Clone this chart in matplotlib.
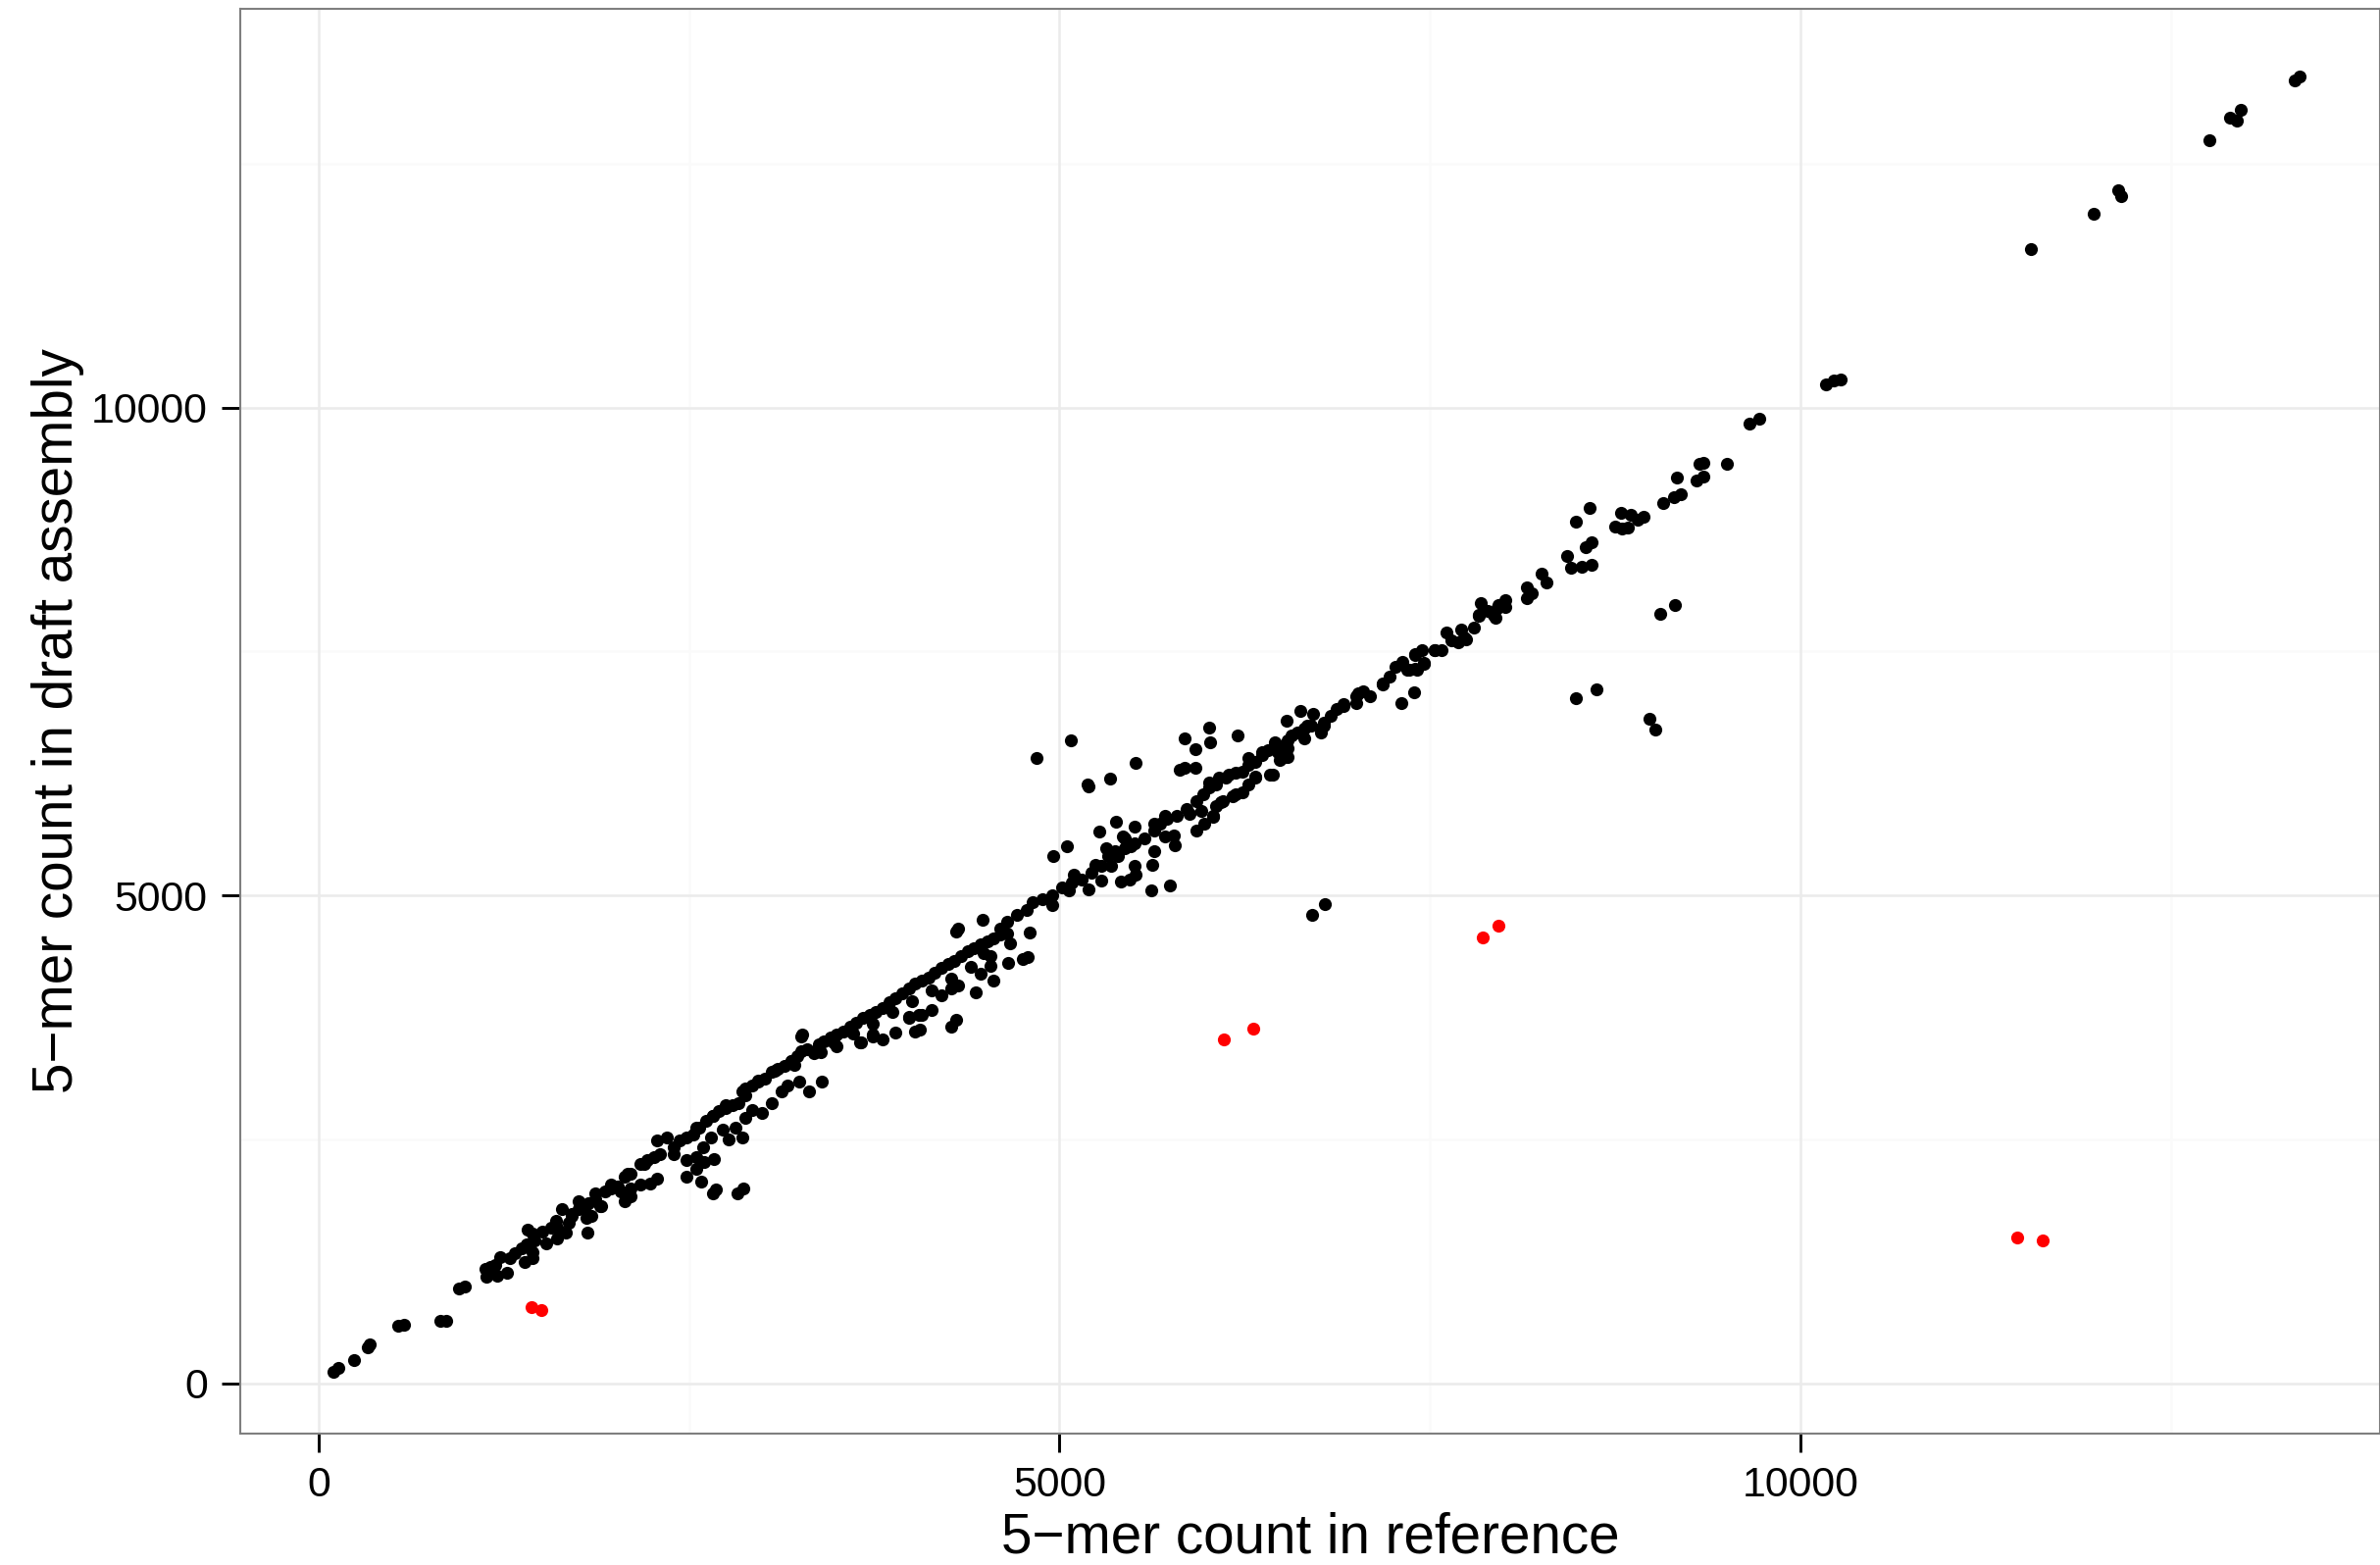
import matplotlib
matplotlib.use("Agg")
import matplotlib.pyplot as plt

plt.rcParams['font.family'] = ['Liberation Sans', 'DejaVu Sans']

# ---- data ----
low_x = [99,132,238,331,346,536,574,821,860,948,986,1125,1158,1191,1224,1132,1207,1268,1291,1324,
         1368,1401,1390,1445,1445,1412,1445,1456,1533,1511,1567,1600,1621,1610,1666,1688,1710,1754,1798,1820,
         1864,1897,1809,1842,1816,1930,1975,2019,2041,2063,2107,2063,2107,2173,2239]
low_y = [114,156,240,368,401,586,596,636,636,971,994,1172,1195,1212,1295,1094,1104,1129,1279,1330,
         1380,1420,1245,1279,1346,1574,1531,1464,1430,1554,1597,1614,1563,1480,1547,1647,1714,1781,1815,1848,
         1882,1815,1697,1714,1541,1966,1999,2016,1966,2117,2150,1865,1915,2033,2049]

band2_x = [2173,2217,2261,2305,2283,2349,2394,2438,2482,2526,2570,2614,2658,2702,2747,2791,2835,2879,2879,2923,
           2967,3011,3055,3100,3144,3188,3232,3254,3298,3342,3375,3408,3452,3497,3541,3585,3629,3673,3717,3761,
           3805,3850,3894,3938,3982,4026,4070,4114,4158,4203,4247,4291,4335,4379,4423,4467,4511,4555,4600,4644]
band2_y = [2251,2284,2318,2351,2485,2519,2418,2485,2519,2552,2619,2686,2736,2787,2820,2854,2870,2954,3021,3055,
           3088,3122,3189,3222,3256,3306,3356,3406,3423,3389,3473,3507,3540,3574,3607,3658,3691,3741,3775,3808,
           3842,3909,3942,3993,4043,4093,4127,4160,4210,4261,4294,4328,4378,4428,4462,4495,4529,4562,4596,4612]

off2_x = [2283,2482,2581,2482,2548,2603,2669,2548,2592,2647,2769,2813,2857,2724,2879,2989,3055,3122,3166,3243,
          3309,3397,2658,2680,2824,2868,3254,3265,3662,3739,3805,3894,3982,4048,4026,4059,4136,4203,4269,4313,
          4269,4302,4434,4467,4533,4555,4655,4754,4787,4489]
off2_y = [2100,2117,2066,2284,2318,2267,2301,2200,2418,2519,2502,2619,2519,2602,2720,2770,2870,2987,3055,3088,
          2987,3088,1949,1983,1949,1999,3557,3574,3490,3574,3524,3591,3741,3775,3607,3624,3825,3976,4043,4076,
          3658,3725,4009,4193,4277,4127,4311,4344,4368,4411]

band3_x = [4599,4643,4710,4776,4820,4886,4952,5018,5085,5151,5217,5283,5327,5371,5438,5504,5570,5636,5680,5724,
           5791,5857,5923,5967,6011,6055,6121,6188,6232,6276,6320,6364,6408,6474,6541]
band3_y = [4662,4730,4797,4847,4931,4964,4998,5081,5132,5165,5232,5299,5400,5450,5483,5534,5584,5668,5735,5785,
           5818,5885,5969,6036,6103,6137,6204,6254,6271,6338,6371,6438,6488,6539,6589]

off3_x = [4301,4312,4478,4842,5078,4959,5051,5195,5283,5265,5378,5411,5471,5504,5515,5504,5427,5625,5636,5621,
          5746,5779,5768,5923,5978,6033,5188,5195,5338,5515,5813,5846,5918,5918,5846,6018,6203,6441,6485,6541,
          6702,6790,6320,6166,6232,6276,6088]
off3_y = [4629,4663,4746,6411,6589,5406,5500,5065,5148,5657,5751,5138,5165,5299,5215,5701,5600,5316,5450,5048,
          5105,5517,5617,5668,5735,5808,6137,6120,6193,6361,6287,6304,6311,6495,6612,6565,6639,6237,6388,6421,
          4797,4914,6220,6019,6053,6137,5952]

band4_x = [6563,6607,6651,6696,6762,6784,6828,6872,6916,7004,7049,7093,7181,7225,7269,7313,7357,7413,7401,7446,
           7457,7534,7578,7611,7644,7688,7710,7743,7799,7832,7843,7887,7942,7953,8008,8008,8152,8152,8185,8251,
           8284,8427,8449,8527,8588,8549,8593]
band4_y = [6639,6673,6706,6740,6706,6773,6840,6907,6941,7041,7091,7041,7175,7242,7343,7376,7309,7309,7476,7510,
           7383,7510,7510,7694,7611,7594,7728,7627,7745,7862,7996,7912,7845,7946,8029,7952,8153,8046,8096,8297,
           8207,8475,8354,8364,8391,8565,8616]

off4_x = [6530,6625,6713,7307,7395,8487,8621,8981,9023,9056,9150]
off4_y = [6790,6890,6857,6967,7081,7024,7115,6807,6696,7889,7972]

high_x = [8482,8575,8747,8791,8795,8835,8857,8901,8941,9073,9144,9195,9166,9298,9342,9342,9316,9503,9656,9724,
          10174,10225,10269]
high_y = [8833,8967,8783,8924,8756,8766,8900,8850,8884,9018,9078,9111,9285,9252,9292,9430,9426,9426,9838,9889,
          10240,10274,10291]

top_x = [11557,11980,12144,12165,12761,12899,12946,12973,13335,13370]
top_y = [11621,11983,12227,12167,12737,12971,12944,13048,13356,13390]

# band edge points (upper / lower side of the dense band)
edgeA_x = [1643,1754,1864,1974,2084,2195,2548,2658,2746,2857,2967,3077,3187,1599,1709,1908,2107,2393,2923]
edgeA_y = [1782,1866,1950,2033,2151,2251,2620,2737,2854,2988,3105,3206,3306,1665,1732,1816,1999,2352,2804]

edgeB_x = [3387,3497,3651,3740,3982,4071,3210,3343,3475,3607,3740,3872,4004,4137,4269,4401,4534,4666,4798]
edgeB_y = [3390,3457,3491,3558,3759,3775,3266,3384,3491,3585,3685,3802,3920,4027,4147,4271,4382,4506,4623]

edgeC_x = [5096,5239,5317,5438,5636,5714,6012,6078,6144,6276,4953,5063,5350,5394,5482,5714,5879,5956,6034,6056,
           6100,6188,6320,6420,6007]
edgeC_y = [5216,5316,5484,5584,5735,5819,6154,6204,6238,6405,4898,5048,5300,5400,5501,5601,5836,5869,5819,5919,
           5970,6037,6204,6238,6723]

edgeD_x = [6364,6453,6475,6519,6541,6651,6673,6761,6783,6916,7015,7004,7181,7313,7346,7401,7456,7401,7533,7732,
           7831,7931,7964]
edgeD_y = [6471,6572,6472,6421,6505,6606,6740,6673,6740,6957,7075,6974,7158,7393,7309,7460,7376,7326,7510,7644,
           7879,7879,7979]

red_x = [1438,1500,6106,6308,7858,7959,11462,11635]
red_y = [777,753,3527,3638,4573,4693,1491,1467]

x_ticks = [0, 5000, 10000]
y_ticks = [0, 5000, 10000]
minor_ticks = [2500, 7500, 12500]
x_label = "5\u2212mer count in reference"
y_label = "5\u2212mer count in draft assembly"

black_x = (low_x + band2_x + off2_x + band3_x + off3_x + band4_x + off4_x + high_x + top_x
           + edgeA_x + edgeB_x + edgeC_x + edgeD_x)
black_y = (low_y + band2_y + off2_y + band3_y + off3_y + band4_y + off4_y + high_y + top_y
           + edgeA_y + edgeB_y + edgeC_y + edgeD_y)
assert len(black_x) == len(black_y)

# ---- figure ----
W, H = 2427, 1596
DPI = 300
fig = plt.figure(figsize=(W / DPI, H / DPI), dpi=DPI)
L, R, T, B = 245, 2427, 9, 1462
ax = fig.add_axes([L / W, 1 - B / H, (R - L) / W, (B - T) / H])
ax.set_xlim(-529, 13911)
ax.set_ylim(-517, 14086)

# grid
for v in minor_ticks:
    ax.axvline(v, color='#FAFAFA', lw=0.6, zorder=0)
    ax.axhline(v, color='#FAFAFA', lw=0.6, zorder=0)
for v in x_ticks:
    ax.axvline(v, color='#EBEBEB', lw=0.6, zorder=0.5)
for v in y_ticks:
    ax.axhline(v, color='#EBEBEB', lw=0.6, zorder=0.5)

ax.scatter(black_x, black_y, s=10, c='black', linewidths=0, zorder=2)
ax.scatter(red_x, red_y, s=10, c='#FF0000', linewidths=0, zorder=3)

ax.set_xticks(x_ticks)
ax.set_yticks(y_ticks)
ax.set_xticklabels([str(v) for v in x_ticks])
ax.set_yticklabels([str(v) for v in y_ticks])
ax.tick_params(axis='both', length=4.6, width=0.7, color='black', labelsize=10.3,
               labelcolor='black', pad=3.4, direction='out')
for sp in ax.spines.values():
    sp.set_color('#7F7F7F')
    sp.set_linewidth(0.5)

fig.text((L + R) / 2 / W, 1 - 1583 / H, x_label, ha='center', va='baseline', fontsize=13.6)
fig.text(59 / W, 1 - 735 / H, y_label, ha='center', va='center', rotation=90, fontsize=13.6)

fig.savefig("out.png", dpi=DPI, facecolor='white')
